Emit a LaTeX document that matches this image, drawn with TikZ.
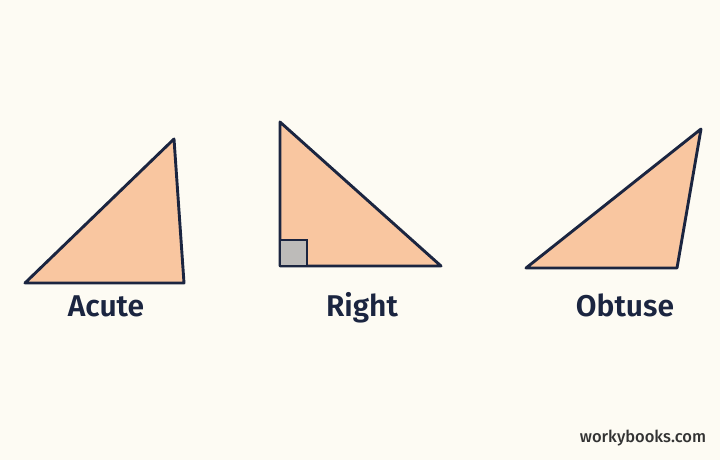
\documentclass[tikz,border=0pt]{standalone}
\usepackage{fontspec}
\setmainfont{Fira Sans}[BoldFont={Fira Sans SemiBold}]
\newfontfamily\wmfont{Fira Sans Medium}
\begin{document}
\begin{tikzpicture}[x=1pt,y=-1pt,
  tri/.style={draw=navy,fill=peach,line width=2.9pt,line join=round},
  lbl/.style={text=navy,font=\fontsize{30}{33}\selectfont\bfseries,anchor=base},
  sq/.style={draw=navy,fill=sqgray,line width=1.8pt}]
\definecolor{bg}{HTML}{FDFBF3}
\definecolor{peach}{HTML}{F9C6A0}
\definecolor{navy}{HTML}{1B2540}
\definecolor{sqgray}{HTML}{BDBBB9}
\fill[bg] (0,0) rectangle (720,460);
\useasboundingbox (0,0) rectangle (720,460);
% Acute
\coordinate (a1) at (25,283);
\coordinate (a2) at (174,139);
\coordinate (a3) at (184,283);
\draw[tri] (a1) -- (a2) -- (a3) -- cycle;
\node[lbl] (la) at (106,316) {Acute};
% Right
\coordinate (r1) at (280,122);
\coordinate (r2) at (280,266);
\coordinate (r3) at (441,266);
\draw[tri] (r1) -- (r2) -- (r3) -- cycle;
\draw[sq] (280,266) rectangle (307,240);
\draw[navy,line width=2.9pt,line join=round] (r1) -- (r2) -- (r3);
\node[lbl] (lr) at (362,316) {Right};
% Obtuse
\coordinate (o1) at (526,268);
\coordinate (o2) at (701,129);
\coordinate (o3) at (677,268);
\draw[tri] (o1) -- (o2) -- (o3) -- cycle;
\node[lbl] (lo) at (625,316) {Obtuse};
\node[text=black!80,font=\wmfont\fontsize{16.5}{19}\selectfont,anchor=base] (wm) at (643,442) {workybooks.com};
\end{tikzpicture}
\end{document}
